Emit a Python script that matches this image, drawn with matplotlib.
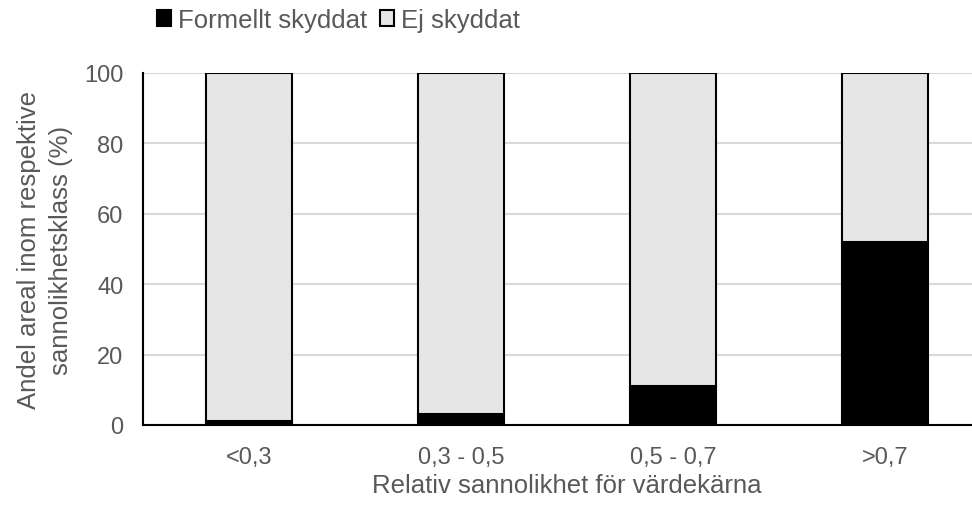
import matplotlib.pyplot as plt
import numpy as np

plt.rcParams['font.family'] = ['Liberation Sans', 'DejaVu Sans']

categories = ['<0,3', '0,3 - 0,5', '0,5 - 0,7', '>0,7']
skyddat = [1, 3, 11, 52]
ej_skyddat = [100 - v for v in skyddat]

text_col = '#595959'

fig = plt.figure(figsize=(9.72, 5.06), dpi=100)
# plot area runs past the right edge of the image, as in the original
ax = fig.add_axes([143 / 972, 1 - 426 / 506, 848 / 972, 352 / 506])

x = np.arange(len(categories))
w = 0.405
ax.bar(x, skyddat, w, color='black', edgecolor='black', linewidth=1.5, label='Formellt skyddat', zorder=3)
ax.bar(x, ej_skyddat, w, bottom=skyddat, color='#e6e6e6', edgecolor='black', linewidth=1.5,
       label='Ej skyddat', zorder=3)

ax.set_xlim(-0.5, 3.5)
ax.set_ylim(0, 100)
ax.set_yticks(range(0, 101, 20))
ax.set_xticks(x)
ax.set_xticklabels(categories)
ax.yaxis.grid(True, color='#d9d9d9', linewidth=1.5, zorder=0)
ax.set_axisbelow(True)

for s in ['top', 'right']:
    ax.spines[s].set_visible(False)
ax.spines['left'].set_linewidth(1.5)
ax.spines['bottom'].set_linewidth(1.5)

ax.tick_params(axis='both', length=0, labelsize=17, colors=text_col)
ax.tick_params(axis='x', pad=15)
ax.tick_params(axis='y', pad=14)
ax.set_xlabel('Relativ sannolikhet för värdekärna', fontsize=18.5, color=text_col)
ax.xaxis.set_label_coords(0.5, -0.135)
ax.set_ylabel('Andel areal inom respektive\nsannolikhetsklass (%)', fontsize=18.5, color=text_col,
              linespacing=1.4)
ax.yaxis.set_label_coords(-0.083, 0.5)

fig.legend(loc='center left', bbox_to_anchor=(157 / 972, 1 - 21 / 506), ncol=2, frameon=False,
           fontsize=18.5, handlelength=0.55, handleheight=0.55, handletextpad=0.27,
           columnspacing=0.5, borderpad=0, borderaxespad=0, labelcolor=text_col)

fig.savefig('out.png', dpi=100)
